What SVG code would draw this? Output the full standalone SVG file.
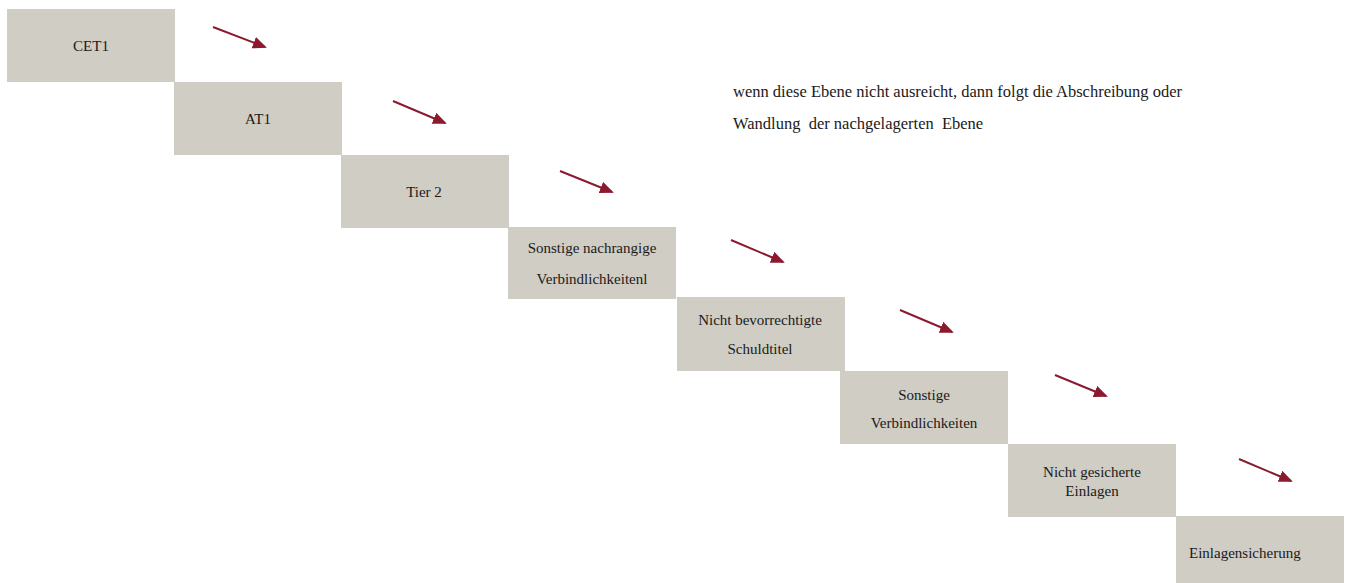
<svg xmlns="http://www.w3.org/2000/svg" width="1347" height="583" viewBox="0 0 1347 583">
<style>
.box{fill:#d0cdc5}
.t{font-family:"Liberation Serif","Times New Roman",serif;font-size:15px;fill:#1a1a1a;text-anchor:middle}
.note{font-family:"Liberation Serif","Times New Roman",serif;font-size:16.5px;fill:#1a1a1a}
.arr{stroke:#8b1a2e;stroke-width:2;fill:none;marker-end:url(#ah)}
</style>
<defs>
<marker id="ah" markerWidth="7" markerHeight="6" refX="6" refY="3" orient="auto" markerUnits="strokeWidth">
<path d="M0,0 L7,3 L0,6 z" fill="#8b1a2e"/>
</marker>
</defs>
<rect width="1347" height="583" fill="#ffffff"/>
<g id="n1"><rect class="box" x="7" y="9" width="168" height="73"/><text class="t" x="91" y="51">CET1</text></g>
<g id="n2"><rect class="box" x="174" y="82" width="168" height="73"/><text class="t" x="258" y="124">AT1</text></g>
<g id="n3"><rect class="box" x="341" y="155" width="168" height="73"/><text class="t" x="424" y="197">Tier 2</text></g>
<g id="n4"><rect class="box" x="508" y="227" width="168" height="72"/><text class="t" x="592" y="253">Sonstige nachrangige</text><text class="t" x="592" y="284">Verbindlichkeitenl</text></g>
<g id="n5"><rect class="box" x="677" y="297" width="168" height="74"/><text class="t" x="760" y="325">Nicht bevorrechtigte</text><text class="t" x="760" y="354">Schuldtitel</text></g>
<g id="n6"><rect class="box" x="840" y="371" width="168" height="73"/><text class="t" x="924" y="400">Sonstige</text><text class="t" x="924" y="428">Verbindlichkeiten</text></g>
<g id="n7"><rect class="box" x="1008" y="444" width="168" height="73"/><text class="t" x="1092" y="477">Nicht gesicherte</text><text class="t" x="1092" y="496">Einlagen</text></g>
<g id="n8"><rect class="box" x="1176" y="516" width="168" height="67"/><text class="t" x="1189" y="558" style="text-anchor:start">Einlagensicherung</text></g>
<g id="note"><text class="note" x="733" y="97">wenn diese Ebene nicht ausreicht, dann folgt die Abschreibung oder</text><text class="note" x="733" y="129" xml:space="preserve">Wandlung  der nachgelagerten  Ebene</text></g>
<g id="connectors">
<line class="arr" x1="213" y1="27" x2="265" y2="47"/>
<line class="arr" x1="393" y1="101" x2="445" y2="123"/>
<line class="arr" x1="560" y1="171" x2="612" y2="192"/>
<line class="arr" x1="731" y1="240" x2="783" y2="262"/>
<line class="arr" x1="900" y1="310" x2="952" y2="332"/>
<line class="arr" x1="1055" y1="375" x2="1106" y2="396"/>
<line class="arr" x1="1239" y1="459" x2="1291" y2="481"/>
</g>
</svg>
